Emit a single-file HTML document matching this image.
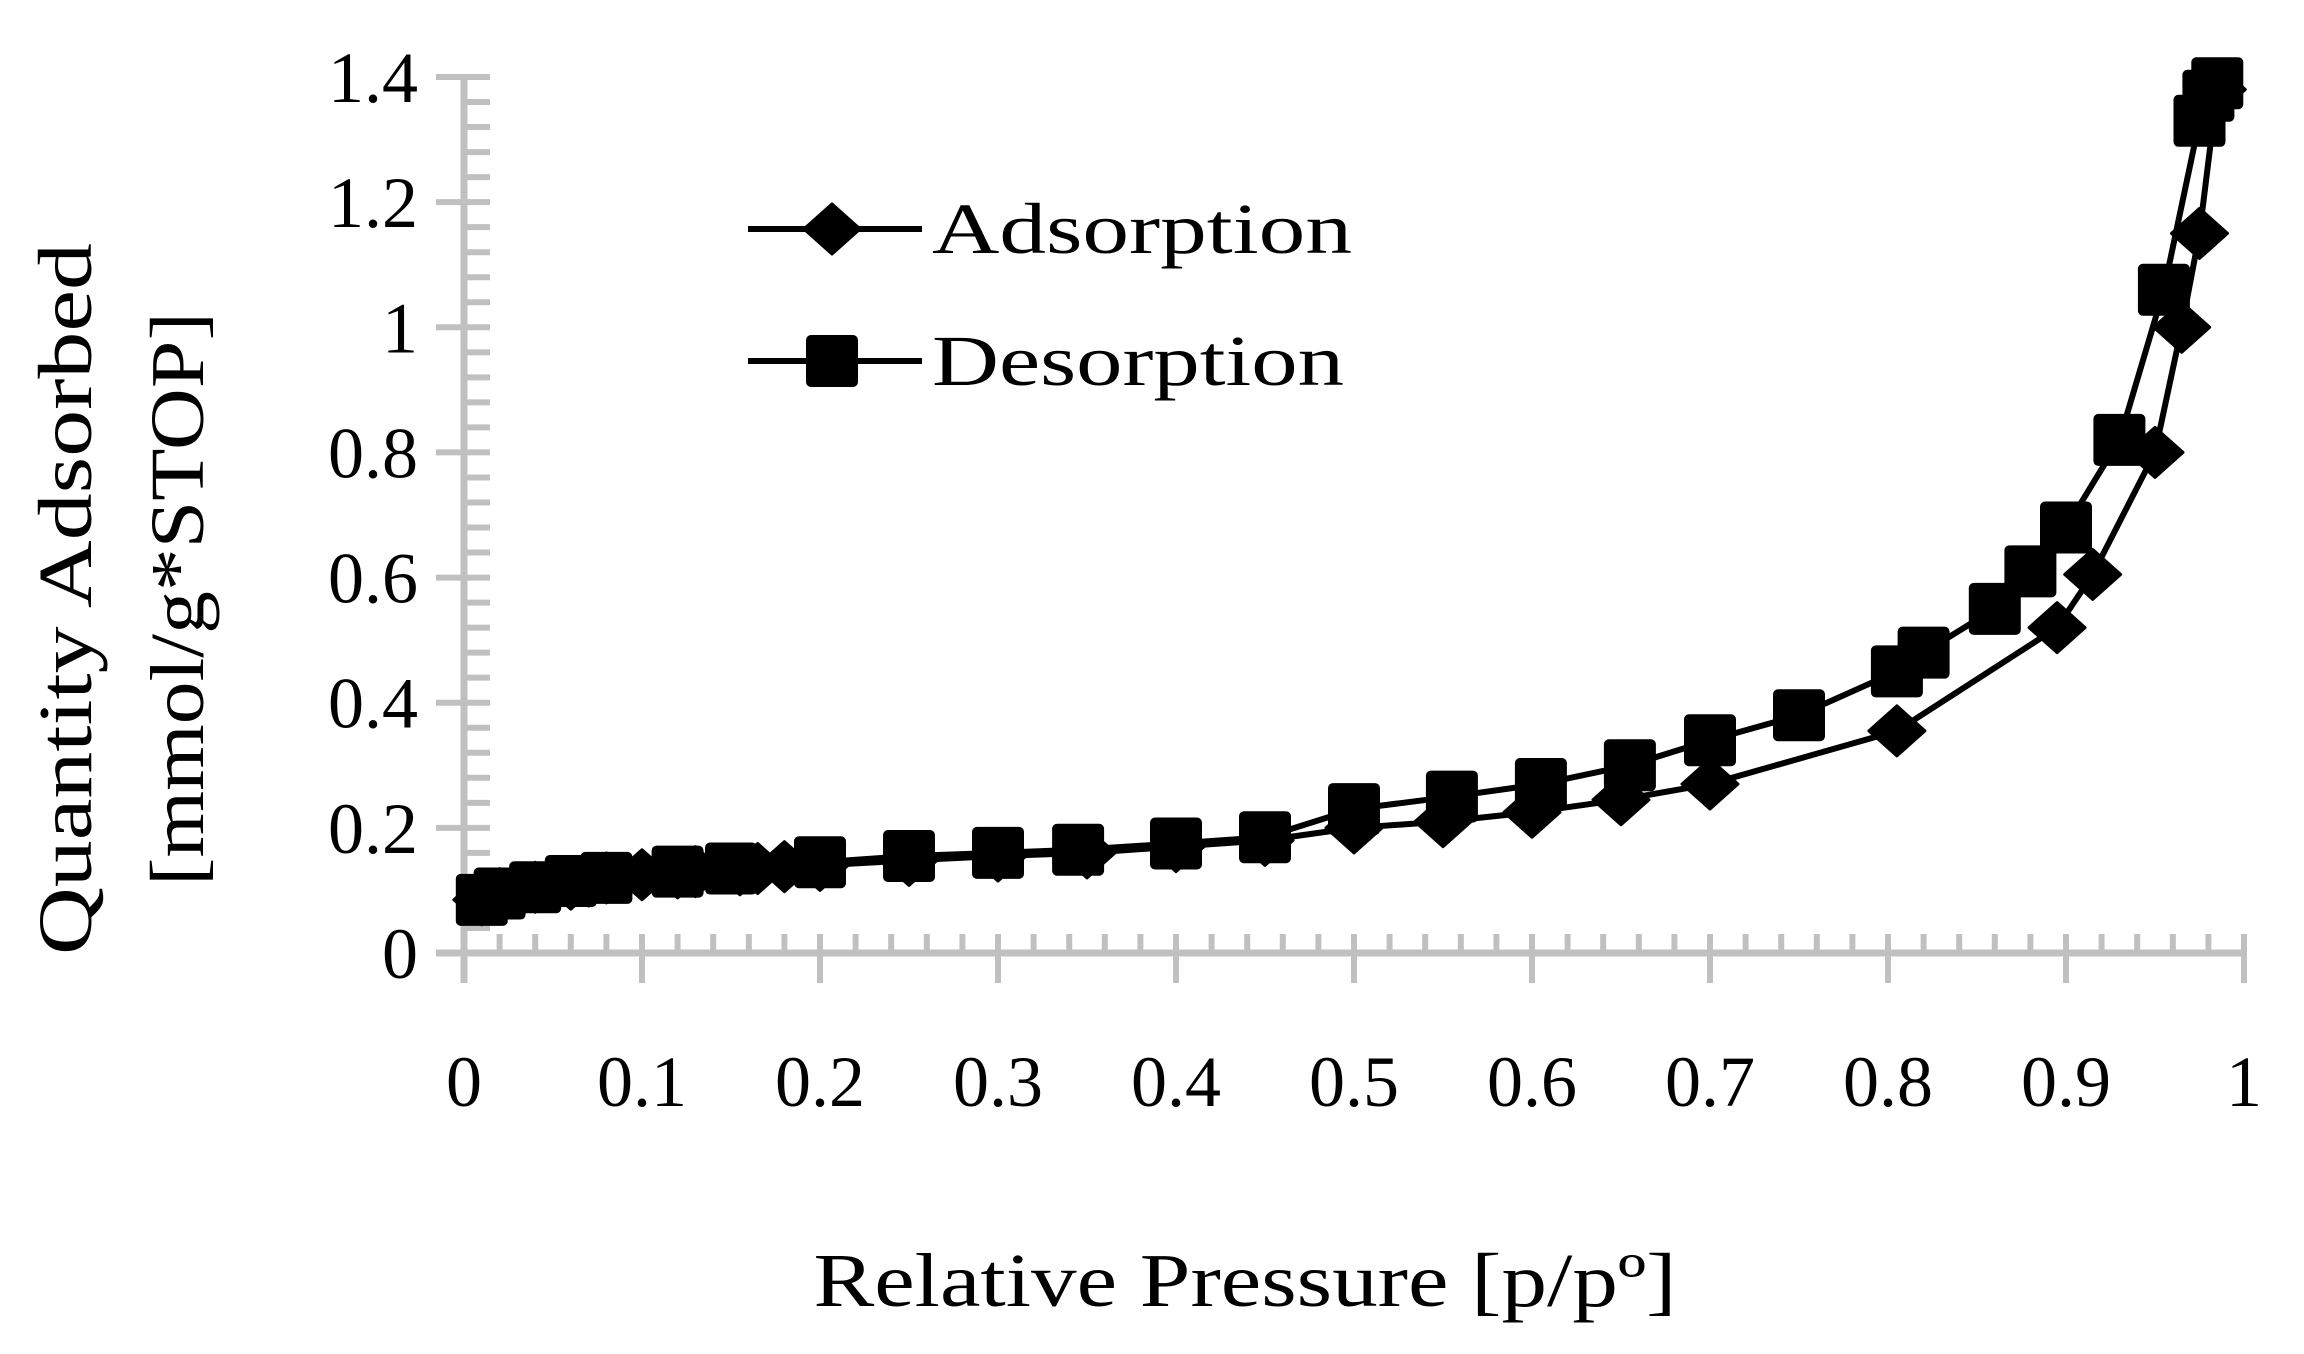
<!DOCTYPE html>
<html><head><meta charset="utf-8"><style>html,body{margin:0;padding:0;background:#fff}svg{display:block}</style></head>
<body>
<svg id="chart" width="2304" height="1354" viewBox="0 0 2304 1354" xmlns="http://www.w3.org/2000/svg" font-family="'Liberation Serif', serif">
<g id="axes"></g>
<g id="series"></g>
<g id="legend">
  <line x1="748" y1="229" x2="922" y2="229" stroke="#000" stroke-width="6"/>
  <polygon points="804,229 832,204 860,229 832,254" fill="#000" stroke="#000" stroke-width="3" stroke-linejoin="round"/>
  <text x="932" y="253" font-size="72" textLength="420" lengthAdjust="spacingAndGlyphs">Adsorption</text>
  <line x1="748" y1="361" x2="922" y2="361" stroke="#000" stroke-width="6"/>
  <rect x="806" y="335" width="52" height="52" rx="5" fill="#000"/>
  <text x="932" y="385" font-size="72" textLength="412" lengthAdjust="spacingAndGlyphs">Desorption</text>
</g>
<text x="1245" y="1306" font-size="76" text-anchor="middle" textLength="863" lengthAdjust="spacingAndGlyphs">Relative Pressure [p/pº]</text>
<text transform="translate(91,599) rotate(-90)" font-size="76" text-anchor="middle" textLength="712" lengthAdjust="spacingAndGlyphs">Quantity Adsorbed</text>
<text transform="translate(203,599) rotate(-90)" font-size="76" text-anchor="middle" textLength="574" lengthAdjust="spacingAndGlyphs">[mmol/g*STOP]</text>
</svg>
<script>
const xTicks = [0,0.1,0.2,0.3,0.4,0.5,0.6,0.7,0.8,0.9,1];
const xTickLabels = ["0","0.1","0.2","0.3","0.4","0.5","0.6","0.7","0.8","0.9","1"];
const yTicks = [0,0.2,0.4,0.6,0.8,1,1.2,1.4];
const yTickLabels = ["0","0.2","0.4","0.6","0.8","1","1.2","1.4"];
const adsX = [0.01,0.02,0.04,0.06,0.07,0.08,0.1,0.12,0.13,0.155,0.165,0.18,0.2,0.25,0.3,0.35,0.4,0.45,0.5,0.55,0.6,0.65,0.7,0.805,0.895,0.915,0.95,0.965,0.975,0.985];
const adsY = [0.085,0.095,0.105,0.11,0.115,0.12,0.125,0.128,0.13,0.133,0.135,0.138,0.14,0.148,0.155,0.16,0.17,0.18,0.2,0.21,0.225,0.245,0.27,0.355,0.52,0.605,0.8,1.0,1.15,1.38];
const desX = [0.985,0.98,0.975,0.955,0.93,0.9,0.88,0.86,0.82,0.805,0.75,0.7,0.655,0.605,0.555,0.5,0.45,0.4,0.345,0.3,0.25,0.2,0.15,0.12,0.08,0.06,0.04,0.02,0.01];
const desY = [1.39,1.37,1.33,1.06,0.82,0.68,0.61,0.55,0.48,0.45,0.38,0.34,0.30,0.27,0.25,0.23,0.185,0.175,0.165,0.16,0.155,0.145,0.135,0.13,0.12,0.115,0.105,0.095,0.085];

const X0=464, XW=1780, Y0=953;
function sx(v){return X0+v*XW;}
function sy(v){return Y0-v*(876/1.4);}
const NS="http://www.w3.org/2000/svg";
function mk(tag,attrs,parent){const e=document.createElementNS(NS,tag);for(const k in attrs)e.setAttribute(k,attrs[k]);parent.appendChild(e);return e;}
const axes=document.getElementById('axes');
const grey="#c0c0c0";
let e=mk('line',{x1:X0,y1:sy(1.4)-3,x2:X0,y2:Y0+30,stroke:grey,'stroke-width':7},axes);


e=mk('line',{x1:X0-28,y1:Y0,x2:sx(1)+3,y2:Y0,stroke:grey,'stroke-width':7},axes);


for(let i=0;i<=35;i++){
  const v=i*0.04, y=sy(v), major=(i%5===0);
  e=mk('line',{x1:major?X0-28:X0,y1:y,x2:X0+26,y2:y,stroke:grey,'stroke-width':6},axes);
  
  
}
for(let i=0;i<=50;i++){
  const v=i*0.02, x=sx(v), major=(i%5===0);
  e=mk('line',{x1:x,y1:Y0-19,x2:x,y2:major?Y0+30:Y0,stroke:grey,'stroke-width':6},axes);
  
  
}
yTicks.forEach((v,i)=>{
  const t=mk('text',{x:418,y:sy(v)+25,'font-size':72,'text-anchor':'end'},axes);
  t.textContent=yTickLabels[i];
  
  
});
xTicks.forEach((v,i)=>{
  const t=mk('text',{x:sx(v),y:1106,'font-size':72,'text-anchor':'middle'},axes);
  t.textContent=xTickLabels[i];
  
  
});
const ser=document.getElementById('series');
function drawSeries(xs,ys,name,marker){
  const g=mk('g',{},ser);
  
  
  const pts=xs.map((x,i)=>sx(x)+','+sy(ys[i])).join(' ');
  const l=mk('polyline',{points:pts,fill:'none',stroke:'#000','stroke-width':6,'stroke-linejoin':'round'},g);
  
  
  xs.forEach((x,i)=>{
    const cx=sx(x), cy=sy(ys[i]);
    let m;
    if(marker==='sq'){
      m=mk('rect',{x:cx-26,y:cy-26,width:52,height:52,rx:5,fill:'#000'},g);
    } else {
      m=mk('polygon',{points:`${cx-28},${cy} ${cx},${cy-25} ${cx+28},${cy} ${cx},${cy+25}`,fill:'#000',stroke:'#000','stroke-width':3,'stroke-linejoin':'round'},g);
    }
    
    
  });
}
drawSeries(desX,desY,'desorption','sq');
drawSeries(adsX,adsY,'adsorption','di');
</script>
</body></html>
